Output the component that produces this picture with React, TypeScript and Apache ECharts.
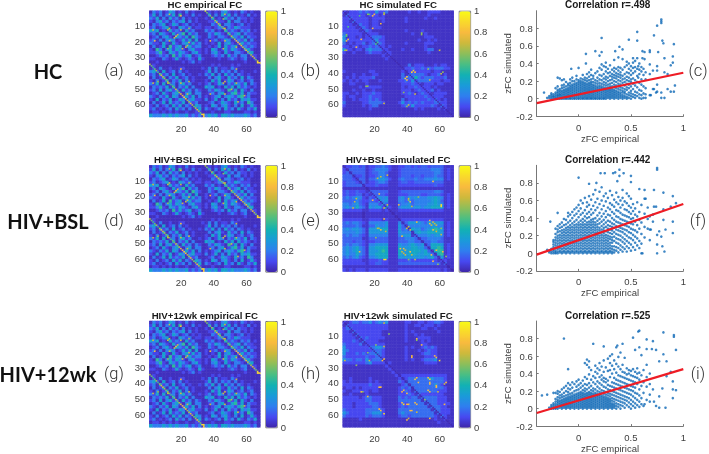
import React, { useEffect, useRef } from "react";
import * as echarts from "echarts";

// Heatmap values are estimated on a 34x34 block grid, one digit per block, read through a level table.
const empiricalLevels = [0.01, 0.03, 0.09, 0.2, 0.33, 0.45, 0.55, 0.65, 0.75, 0.85];
const simLevels = [0.01, 0.04, 0.1, 0.17, 0.27, 0.4, 0.52, 0.62, 0.72, 0.85];
const simBSLLevels = [0.02, 0.05, 0.1, 0.15, 0.21, 0.28, 0.35, 0.45, 0.6, 0.8];
const empiricalBlocks = [
"13231 24312 13121 11 12121 34212 13212 11","24131 32415 12131 21 13131 42413 12131 21",
"32413 14231 31212 11 21412 14231 32212 11","21342 31323 41312 11 12242 21413 31212 11",
"13234 12431 23121 21 11324 13321 23121 11","23123 41214 32312 21 22123 31324 32221 11",
"43412 14232 14231 11 32312 14232 13231 21","23143 21423 51423 11 13243 21423 41322 11",
"12313 42143 24153 21 13213 32143 24132 21","23131 34312 42414 11 21231 24312 32413 11",
"32214 21421 34242 31 21214 13421 24232 21","13124 15234 13423 31 12124 14234 12323 21",
"21531 34243 21342 21 21431 24243 21342 11","22352 14324 32134 21 21342 14213 32134 11",
"11232 31524 23412 31 11232 31423 13312 21","22113 21242 12321 42 11112 11232 12311 21",
"11211 11111 21231 21 11111 11111 11211 11","12111 11111 11111 11 11212 11121 21111 11",
"12131 12112 21111 12 13131 22132 11111 11","34214 12313 12111 11 24131 32313 12111 21",
"23142 31412 31211 21 32413 14231 32121 11","13124 13241 23121 11 13134 21423 14132 11",
"21312 41324 13121 11 21424 12431 23123 11","32414 12313 42311 21 23124 31324 32413 21",
"13232 41413 24131 11 43412 14241 42321 21","23141 34231 42313 21 13243 21524 14213 11",
"12314 21342 13413 31 12313 41245 24132 21","32132 41431 24241 31 21234 13432 45231 11",
"21413 24124 31342 21 31241 31423 14342 21","13124 14232 41323 11 12312 43214 23153 11",
"21312 31424 13214 31 21431 34213 14124 21","23121 23142 31312 41 32123 14231 42132 41",
"12212 12121 12112 21 11211 12211 11221 21","43334 34343 34232 31 34342 44343 33432 31",
];
const homologDiagonal = [.65,.55,.45,.55,.65,.45,.65,.75,.55,.65,.55,.65,.55,.45,.55,.55,.65,.55,.65,.75,.85,.85,.75,.65,.65,.75,.65,.55,.65,.75,.65,.55,.85,.85];
const empiricalHot = [[19,3,.8],[19,12,.7],[11,12,.7],[2,12,.7],[16,16,.8],[17,15,.7],[22,23,.7],[24,20,.7],[24,11,.6],[19,37,.8],[19,46,.7],[11,46,.7],[2,46,.7],[16,50,.7],[24,45,.7],[8,42,.7],[5,45,.6],[53,37,.7],[53,46,.7],[45,46,.7],[50,50,.7],[58,54,.7],[20,54,.8],[22,56,.8],[23,53,.7],[32,66,.9],[33,66,.9]];

const simHCBlocks = [
"21222 32322 42231 11 11121 12112 22211 11","13222 22122 21211 11 11111 11112 11111 11",
"22322 22212 22211 11 11211 11121 12111 11","22132 22212 21211 11 11211 11111 11111 11",
"22212 32212 21111 11 11111 11111 11111 11","22221 23212 22111 11 11111 11111 11111 11",
"22222 12321 11111 11 11211 11211 11111 11","32222 21222 21111 11 11112 11121 11111 11",
"41221 21223 33211 11 11111 11122 21111 11","42222 22223 42211 11 11111 12112 12111 11",
"31212 23123 33211 11 11211 11122 21111 11","22122 12232 32212 11 11111 11121 11111 11",
"42212 21343 33221 11 12112 11123 31111 11","21121 11232 22122 11 11111 11112 11111 11",
"11111 11111 11212 11 11111 11111 11111 11","11111 11111 11121 11 11111 11111 11111 11",
"11111 11111 11111 11 11111 11111 11111 11","11111 11111 11111 11 11131 22211 12122 11",
"11111 11111 11111 11 11223 22323 23332 21","21111 11122 11111 11 12122 22222 12211 11",
"11121 12112 21111 11 13133 33321 22312 11","12121 22223 11111 11 13233 53233 32223 11",
"21212 12211 12111 11 22324 23333 22212 21","11221 11211 11111 11 12223 22122 21221 11",
"11111 21222 22111 11 12122 32222 12111 11","11121 12112 11111 11 12221 23222 31211 11",
"22112 12223 22111 11 12232 12322 12222 11","21221 12232 22111 11 11222 22232 22221 11",
"21121 22232 32111 11 13122 22223 23212 11","31111 12233 33211 11 24232 32322 23322 11",
"21111 12123 31111 11 12324 22222 32132 11","11111 11121 11111 11 11111 21211 11212 11",
"11111 11111 11111 11 11111 11111 11111 11","11111 11111 11111 11 11111 11111 11111 11",
];
const simHCHot = [[2,15,.6],[3,18,.8],[1,25,.6],[3,10,.5],[8,23,.8],[16,2,.5],[19,2,.8],[18,11,.8],[23,8,.8],[25,2,.7],[21,20,.5],[25,59,.6],[14,48,.6],[38,43,.9],[42,39,.9],[44,39,.8],[44,53,.8],[48,15,.6],[59,25,.7],[60,40,.7],[39,61,.6],[53,44,.7],[52,37,.6]];

const simBSLBlocks = [
"12233 23122 33432 11 22332 32332 33331 11","21333 33123 44442 11 23333 33333 44431 21",
"23133 33123 34431 11 23333 33333 34431 21","33312 23122 34431 11 23332 33233 34331 21",
"33321 33133 45542 11 34333 43344 45441 21","23332 13122 34431 11 23322 33333 33331 11",
"23333 31222 32221 11 22222 22222 23221 11","11111 11011 11111 11 11111 11111 11111 11",
"23223 22133 33331 11 23333 33333 34431 11","23223 31213 33321 11 22233 33223 33321 21",
"34345 42132 45451 11 45354 54445 56541 21","33334 32233 25451 11 44343 44444 56531 21",
"44345 32144 42531 11 34453 44445 56541 21","45446 43154 55262 11 45554 55455 66651 21",
"22222 21122 22121 11 22222 22222 22221 11","11111 10111 11111 01 11111 11111 11111 11",
"11111 10111 11111 10 11111 11111 11111 11","22222 21122 22121 11 12222 22222 22221 11",
"34344 32144 44451 11 41355 55435 55551 21","33334 31133 54451 11 53144 44444 55441 21",
"45455 43155 56661 11 53416 55345 67651 21","44445 43155 55551 11 54441 56556 66651 21",
"34344 32144 44441 11 45551 34445 45541 21","33333 31133 33331 11 33444 31334 44431 11",
"33323 32122 33331 11 33344 33133 44331 11","34344 32144 55551 11 54456 54513 66651 21",
"45456 43155 66661 11 65556 65531 66761 21","45456 43155 56761 11 65566 66563 16771 21",
"45446 43155 66661 11 65566 65565 31671 21","34345 32144 56661 11 55555 55545 63151 21",
"22222 21122 23221 11 22232 22222 22122 11","22222 22122 33221 11 33333 33333 33313 11",
"11111 11111 11111 11 11111 11111 11111 01","21212 22122 22221 11 22222 22222 22212 10",
];
const simBSLHot = [[8,21,.7],[6,27,.7],[18,22,.8],[25,27,.7],[34,25,.8],[41,23,.8],[60,26,.9],[53,37,.8],[45,36,.8],[10,55,.8],[25,60,.9],[41,55,.8],[35,53,.8],[54,57,.8],[61,55,.8],[23,7,.7],[40,21,.7],[42,26,.7],[37,56,.7],[38,54,.7],[42,57,.7],[44,60,.7],[20,46,.6],[22,40,.6],[40,39,.7],[41,41,.7],[55,36,.7],[57,38,.7],[60,40,.6],[58,63,.6]];

const sim12wkBlocks = [
"21233 23342 34341 11 11221 12212 23321 11","13222 22222 22221 11 11211 22122 21211 11",
"23322 22222 22221 11 11211 11221 12111 11","22132 22222 22111 11 11212 11111 11211 11",
"22213 22222 22111 11 11211 21211 11111 11","22221 32322 22211 11 11211 12222 11111 11",
"22232 13222 21111 11 11211 11212 11111 11","32222 31222 22211 11 11111 11221 11111 11",
"42222 22233 44311 11 11212 11232 32111 11","43222 22223 33211 11 11211 12123 22111 11",
"42223 23233 43211 11 11211 11233 22111 11","32222 22322 33211 11 11211 11122 22111 11",
"43323 32423 33311 11 11212 11233 34111 11","22222 22342 22212 11 11111 11122 22111 11",
"11111 11111 11121 11 11111 11111 11111 11","11111 11111 11112 11 11111 11111 11111 11",
"11111 11111 11111 21 11111 11111 11111 11","11111 11111 11111 12 12222 22222 22222 11",
"11211 11121 11111 11 21233 33334 43332 11","21211 11121 21111 11 32133 33333 33332 11",
"22222 22232 22111 11 12313 33333 34321 11","12212 12222 21111 11 23231 33333 33332 11",
"21122 22212 21111 11 22321 33333 33222 11","11211 11211 11111 11 22232 13222 22221 11",
"22222 12332 22111 11 32323 31333 33222 11","22222 22332 22111 11 33333 33133 33222 11",
"22212 22233 32111 11 23233 33313 33222 21","22212 22223 32111 11 23233 33331 33322 11",
"32222 22333 33211 11 33333 33333 13322 21","43222 22334 44211 11 34333 33333 31322 21",
"32222 22323 33211 11 23323 33333 32132 11","11111 21111 11111 11 11111 11111 12112 11",
"11111 11111 11111 11 11111 11111 11211 11","11111 11111 11111 11 11111 11111 11111 11",
];
const sim12wkHot = [[1,25,.6],[15,48,.8],[20,15,.6],[25,16,.7],[25,1,.7],[28,8,.6],[24,25,.8],[25,59,.9],[23,57,.8],[23,42,.8],[11,45,.8],[36,45,.8],[36,52,.8],[39,53,.8],[39,63,.8],[41,57,.8],[39,46,.8],[44,37,.8],[44,52,.8],[45,58,.7],[48,15,.8],[42,22,.8],[45,12,.6],[53,37,.9],[53,40,.8],[57,42,.8],[53,45,.8],[59,25,.9],[56,22,.8],[62,53,.8],[62,40,.7],[50,50,.6]];

const heatXLabels = Array.from({ length: 68 }, (_, i) => String(i + 1));
const colorbarTicks = [0, 0.2, 0.4, 0.6, 0.8, 1];
const parula = ["#3E26A8", "#4748F0", "#2F7EEF", "#1A9BD9", "#12B1B3", "#49BE84", "#8DBE5A", "#CDB93C", "#F8BA3E", "#F9D92B", "#F9FB15"];

// Scatter clouds: [x, y, y, ...] in hundredths, one column of the picture at a time.
const cloudC = [
[-33,7],[-30,1],[-28,1,3],[-26,0,2,4,6],[-24,0,2,3,5],[-22,0,1,3,5,7,12],[-20,0,1,3,4,6,8,10,14,24],[-18,0,2,4,5,7,9,11,23],
[-16,0,1,3,5,7,9,12,15,21],[-14,0,2,4,6,8,10,13,16,22],[-12,0,1,3,5,7,9,11,14,19],[-10,0,2,4,6,8,10,12,15,17],[-8,0,1,3,5,7,9,11,13,15,18,22],
[-7,34],[-6,0,2,4,6,8,10,12,14,16,20,24],[-4,0,1,3,5,7,9,11,13,15,17,20],[-2,0,2,4,6,8,10,12,14,16,18,22,26],[0,0,1,3,5,7,9,11,13,15,17,19,21,35],
[2,0,2,4,6,8,10,12,14,16,18,20,23],[4,0,1,3,5,7,9,11,13,15,17,19,22,27],[6,0,2,4,6,8,10,12,14,16,18,21,24],[7,40,51],[8,0,1,3,5,7,9,11,13,15,17,20,23,28],
[10,0,2,4,6,8,10,12,14,16,18,21,25,30],[12,0,1,3,5,7,9,11,13,15,17,19,22,27,33],[14,0,2,4,6,8,10,12,14,16,19,23,26],[16,0,1,3,5,7,9,11,13,15,18,21,29,54],
[18,0,2,4,6,8,10,12,14,17,20,24,31],[20,0,1,3,5,7,9,11,13,15,18,22,27,35,49],[22,0,2,4,6,8,10,12,14,17,21,26,33,39,53,69],[24,0,1,3,5,7,9,11,13,16,19,23,28,37],
[26,0,2,4,6,8,10,12,15,18,22,25,31,36,41],[28,1,3,5,7,9,11,13,16,20,24,29,34],[30,0,2,4,6,8,10,12,14,17,21,26,30,38],[32,1,3,5,7,9,11,14,18,22,25,28,33],
[34,0,2,4,6,8,10,13,16,20,24,27,31,35,44],[35,54],[36,1,3,5,7,9,12,15,19,23,26,29,34],[38,0,2,4,6,8,11,14,17,21,25,28,32,36,47],[39,59],[40,1,3,5,7,10,13,16,20,24,27,30,35],
[42,0,2,4,7,9,12,18,22,26,33,45,56],[44,1,3,6,8,11,15,19,23,28,36],[46,0,2,5,10,13,17,21,25,30,38,42],[48,1,4,7,12,16,20,24,29,34,40,67],[50,0,3,6,9,14,19,22,27,32,37],
[52,2,5,11,17,23,29,35,41,46],[54,1,4,8,15,21,31,36,43],[56,3,7,13,19,26,34,46,66,76],[57,24,37],[58,1,5,10,18,28,33,40],[60,0,4,9,16,22,31,36],[61,46,54],[62,1,6,14,27,34],
[63,45,53],[64,1,5,12,22,30],[68,4,28,39,53,55],[69,4],[71,11,32],[72,11,72],[74,7],[75,8,16,32,37,83],[76,53],[79,1,7,86,88,90],[80,66],[81,63],[82,1,30,46],[85,11,28],[88,8,38],[90,41,48],[91,8,62],[92,15],
];
const cloudF = [
[-30,4],[-28,1,3],[-27,36],[-26,0,2,5],[-24,0,2,4,7,10,13,15],[-22,0,1,3,6,9,12,15,18,22,28],[-20,0,2,5,8,11,14,17,20,24,27,31,46],[-18,1,3,6,9,12,15,18,21,25,29,33],
[-16,0,2,5,8,11,14,17,20,23,26,30,35],[-14,1,3,6,9,12,15,18,21,24,27,32,39],[-12,0,2,5,8,11,14,17,20,23,26,29,33,38],[-10,1,3,6,9,12,15,18,21,24,27,30,35,42,46],
[-8,0,2,5,8,11,14,17,20,23,26,29,32,37,44],[-6,1,3,6,9,12,15,18,21,24,27,30,34,40,47],[-4,0,2,5,8,11,14,17,20,23,26,29,32,36,43,50],[-2,1,3,6,9,12,15,18,21,24,27,30,33,38,45,52],
[0,0,2,5,8,11,14,17,20,23,26,29,32,35,41,48,55,86],[2,1,3,6,9,12,15,18,21,24,27,30,33,37,44,51,60],[4,0,2,5,8,11,14,17,20,23,26,29,32,35,39,46,57],[6,1,3,6,9,12,15,18,21,24,27,30,33,37,42,49,63],
[8,0,2,5,8,11,14,17,20,23,26,29,32,35,40,45,53,58],[10,1,3,6,9,12,15,18,21,24,27,30,33,36,41,47,55,65,79],[12,0,2,5,8,11,14,17,20,23,26,29,32,35,38,44,50,61],[14,1,3,6,9,12,15,18,21,24,27,30,33,36,39,46,54,67],
[16,0,2,5,8,11,14,17,20,23,26,29,32,35,40,49,58,72],[17,80],[18,1,3,6,9,12,15,18,21,24,27,30,33,37,43,52,62],[20,0,2,5,8,11,14,17,20,23,26,29,34,39,46,56,70],[21,91],[22,1,3,6,9,12,15,18,21,24,27,31,36,42,50,60,75],
[24,0,2,5,8,11,14,17,20,23,26,29,33,38,45,54,65],[25,91],[26,1,3,6,9,12,15,18,21,25,30,35,41,48,59,68],[28,0,2,5,8,11,14,17,20,24,28,32,37,44,52,63],[30,1,3,6,9,12,16,19,23,27,31,36,43,50,57,71],
[32,0,2,5,8,12,15,18,22,26,30,34,40,47,55,66],[33,91],[34,1,4,8,14,19,24,29,33,38,45,53,61],[35,92],[36,3,7,12,17,22,27,31,36,42,49,58,69],[37,82],[38,1,6,11,16,21,26,30,35,41,48,56,64],[39,88,95],
[40,4,9,15,20,25,29,34,39,46,52,60],[42,2,7,13,18,24,28,33,38,44,55,63,72],[43,91],[44,5,11,16,22,27,32,37,43,50,59],[46,2,8,14,20,26,31,36,42,49,57,68],[48,6,12,18,24,30,35,41,47,54,65],[50,3,10,17,23,28,34,39,45,52,62,81,88],
[52,7,15,21,27,33,40,48,56],[54,4,12,19,26,36,44,51],[56,9,17,24,32,42,58],[58,6,14,28,38,47,73],[60,0,11,22,35,55],[61,0],[63,18,30,45,62,72],[64,62],[66,28,39,52],[68,15,27,42],[69,27],[71,36,44],[72,72,53],[74,53],[75,0,10,21,95,97],[77,25],[79,19],[80,8],[81,38,50,69],[82,2],[83,27],[88,53],[90,23,36,65],[93,57],
];
const cloudI = [
[-35,15],[-30,16],[-28,1],[-26,0,2,4],[-24,0,2,4,6,18],[-22,0,1,3,5,8,11,18],[-20,0,2,4,6,8,10,13,17,20],[-18,1,3,5,7,9,12,15,19],[-16,0,2,4,6,8,10,13,16,22],[-14,1,3,5,7,9,11,14,18,24,80],
[-12,0,2,4,6,8,10,12,15,20,26],[-10,1,3,5,7,9,11,13,16,19,23,29,45],[-8,0,2,4,6,8,10,12,14,17,22,27],[-6,1,3,5,7,9,11,13,15,18,24,30],[-4,0,2,4,6,8,10,12,14,16,20,28],[-2,1,3,5,7,9,11,13,15,17,21,25,31],
[0,0,2,4,6,8,10,12,14,16,18,22,27,33],[2,1,3,5,7,9,11,13,15,17,19,24,29],[4,0,2,4,6,8,10,12,14,16,18,21,26,32],[6,1,3,5,7,9,11,13,15,17,20,23,28,36,52],[8,0,2,4,6,8,10,12,14,16,18,22,27,34,50,56],
[10,1,3,5,7,9,11,13,15,17,19,24,29,39,47,54],[12,0,2,4,6,8,10,12,14,16,18,21,26,33,44],[14,1,3,5,7,9,11,13,15,17,20,23,30,37,74],[16,0,2,4,6,8,10,12,14,16,18,22,28,35,42,49],[18,1,3,5,7,9,11,13,15,17,20,25,31,40,46],
[20,0,2,4,6,8,10,12,14,16,19,23,29,36,44,52],[22,1,3,5,7,9,11,13,15,18,21,27,33,38,48],[24,0,2,4,6,8,10,12,14,17,20,25,31,35,42,55,71],[26,1,3,5,7,9,11,13,16,19,24,30,34,47],[28,0,2,4,6,8,10,12,15,18,22,27,32,43,57],
[30,1,3,5,7,9,11,14,17,21,26,36,44,52,60],[32,0,2,4,6,9,12,16,20,25,30,40,49,62],[34,1,3,5,8,11,15,19,24,29,35,45,55],[36,0,3,6,10,14,18,23,28,33,41,51,70],[37,72],[38,2,5,9,13,17,22,27,32,38,48,59],
[40,0,4,8,12,16,21,26,31,37,45,64],[42,3,7,11,15,20,25,30,36,42,50,74],[44,1,6,10,14,19,24,29,35,41,58],[46,4,9,13,18,23,28,34,39,46],[48,2,7,12,17,22,27,33,40,44],[50,0,5,10,16,21,26,32,38,43],
[52,3,8,14,20,25,31,37,45,81],[54,1,6,12,18,24,30,36,42,67],[56,4,10,17,28,35,40,46],[57,88],[58,2,8,15,22,33,41,70,89],[60,5,12,26,38,61],[62,3,18,30,44],[63,5],[65,10,25,36,50,68,79],[68,8,16,28,40],[70,68],[71,22,77],
[72,8],[74,3,67],[77,1,14,54],[80,23],[81,87,62],[83,1],[84,37,54],[88,42],[90,12,22,31],[91,82,84],[93,21,67],
];
const fitC = [[-0.4, -0.05], [1, 0.295]];
const fitF = [[-0.4, -0.015], [1, 0.56]];
const fitI = [[-0.4, -0.05], [1, 0.45]];

const rowTops = [10.7, 165.3, 321];
const rowNames = ["HC", "HIV+BSL", "HIV+12wk"];
const bigLabelY = [71, 221, 374];
const bigLabelX = [48, 48, 48];
const letters = [["(a)", "(b)", "(c)"], ["(d)", "(e)", "(f)"], ["(g)", "(h)", "(i)"]];
const correlations = ["Correlation r=.498", "Correlation r=.442", "Correlation r=.525"];
const empiricalTitles = ["HC empirical FC", "HIV+BSL empirical FC", "HIV+12wk empirical FC"];
const simulatedTitles = ["HC simulated FC", "HIV+BSL simulated FC", "HIV+12wk simulated FC"];
const simBlocks = [simHCBlocks, simBSLBlocks, sim12wkBlocks];
const simHot = [simHCHot, simBSLHot, sim12wkHot];
const simLevelTables = [simLevels, simBSLLevels, simLevels];
const clouds = [cloudC, cloudF, cloudI];
const fits = [fitC, fitF, fitI];

function buildCells(blocks: string[], levels: number[], hot: number[][], homolog: number[] | null) {
  const rows = blocks.map((s) => s.replace(/ /g, ""));
  const m: number[][] = [];
  for (let r = 0; r < 68; r++) {
    m.push([]);
    for (let c = 0; c < 68; c++) m[r].push(levels[Number(rows[r >> 1][c >> 1])]);
    if (!homolog) m[r][r] = 0.01;
  }
  if (homolog) homolog.forEach((v, i) => { m[i][i + 34] = v; m[i + 34][i] = v; });
  hot.forEach(([r, c, v]) => { m[r][c] = v; m[c][r] = v; });
  const cells: number[][] = [];
  for (let r = 0; r < 68; r++) for (let c = 0; c < 68; c++) cells.push([c, r, m[r][c]]);
  return cells;
}

function cloudPoints(cloud: number[][]) {
  const pts: number[][] = [];
  cloud.forEach((col) => col.slice(1).forEach((y) => pts.push([col[0] / 100, y / 100])));
  return pts;
}

const tickFont = { fontFamily: "Liberation Sans", fontSize: 9.5, color: "#404040" };

function buildOption() {
  const grid: any[] = [], xAxis: any[] = [], yAxis: any[] = [], series: any[] = [], visualMap: any[] = [], title: any[] = [], graphic: any[] = [];
  const titleStyle = { fontFamily: "Liberation Sans", fontWeight: "bold", fontSize: 9.7, color: "#1a1a1a" };
  const empiricalCells = buildCells(empiricalBlocks, empiricalLevels, empiricalHot, homologDiagonal);

  const addHeat = (left: number, top: number, cells: number[][], text: string) => {
    const w = 111, h = 106.3;
    const gi = grid.length;
    grid.push({ left, top, width: w, height: h });
    xAxis.push({ gridIndex: gi, type: "category", data: heatXLabels, axisLine: { show: false }, axisTick: { show: false }, splitLine: { show: false },
      axisLabel: { ...tickFont, margin: 6, interval: (_: number, v: string) => Number(v) % 20 === 0 } });
    yAxis.push({ gridIndex: gi, type: "category", inverse: true, data: heatXLabels, axisLine: { show: false }, axisTick: { show: false }, splitLine: { show: false },
      axisLabel: { ...tickFont, margin: 4, interval: (_: number, v: string) => Number(v) % 10 === 0 } });
    const si = series.length;
    series.push({ type: "heatmap", xAxisIndex: gi, yAxisIndex: gi, data: cells, silent: true, progressive: 0 });
    visualMap.push({ type: "continuous", seriesIndex: si, min: 0, max: 1, dimension: 2, calculable: false, show: true, text: null, padding: 0, borderWidth: 1, borderColor: "#777",
      left: left + w + 5, top, itemWidth: 11.4, itemHeight: h, inRange: { color: parula }, hoverLink: false });
    const gb = grid.length;
    grid.push({ left: left + w + 5, top, width: 11.4, height: h });
    xAxis.push({ gridIndex: gb, type: "value", show: false, min: 0, max: 1 });
    yAxis.push({ gridIndex: gb, type: "value", position: "right", min: 0, max: 1, interval: 0.2, axisLine: { show: false }, axisTick: { show: false }, splitLine: { show: false },
      axisLabel: { ...tickFont, margin: 4, customValues: colorbarTicks } });
    title.push({ text, left: left + w / 2, top: top - 11, textAlign: "center", padding: 0, textStyle: titleStyle });
  };

  rowTops.forEach((top, row) => {
    addHeat(149.3, top, empiricalCells, empiricalTitles[row]);
    addHeat(342.7, top, buildCells(simBlocks[row], simLevelTables[row], simHot[row], null), simulatedTitles[row]);
    const gi = grid.length;
    const h = 105.6;
    grid.push({ left: 536.7, top, width: 146.6, height: h });
    const axisLine = { show: true, lineStyle: { color: "#777", width: 1 } };
    const axisTick = { show: true, inside: true, length: 2, lineStyle: { color: "#777" } };
    xAxis.push({ gridIndex: gi, type: "value", min: -0.4, max: 1, splitLine: { show: false }, axisLine: { ...axisLine, onZero: false },
      axisTick: { ...axisTick, customValues: [0, 0.5, 1] }, axisLabel: { ...tickFont, margin: 6, customValues: [0, 0.5, 1] },
      name: "zFC empirical", nameLocation: "middle", nameGap: 16, nameTextStyle: { fontFamily: "Liberation Sans", fontSize: 9.5, color: "#404040" } });
    yAxis.push({ gridIndex: gi, type: "value", min: -0.2, max: 1, splitLine: { show: false }, axisLine: { ...axisLine, onZero: false },
      axisTick: { ...axisTick, customValues: [-0.2, 0, 0.2, 0.4, 0.6, 0.8] }, axisLabel: { ...tickFont, margin: 4, customValues: [-0.2, 0, 0.2, 0.4, 0.6, 0.8] },
      name: "zFC simulated", nameLocation: "middle", nameGap: 21, nameTextStyle: { fontFamily: "Liberation Sans", fontSize: 9.5, color: "#404040" } });
    series.push({ type: "scatter", xAxisIndex: gi, yAxisIndex: gi, data: cloudPoints(clouds[row]), symbolSize: 2.6, itemStyle: { color: "#0F69B6" }, silent: true, progressive: 0, large: false });
    series.push({ type: "line", xAxisIndex: gi, yAxisIndex: gi, data: fits[row], showSymbol: false, silent: true, lineStyle: { color: "#EE1C25", width: 2.2 } });
    title.push({ text: correlations[row], left: 607.7, top: top - 11, textAlign: "center", padding: 0, textStyle: { ...titleStyle, fontSize: 10 } });
    graphic.push({ type: "text", x: bigLabelX[row], y: bigLabelY[row], style: { text: rowNames[row], fontFamily: "Lato", fontWeight: "bold", fontSize: 20, fill: "#111", textAlign: "center", textVerticalAlign: "middle" } });
    const lx = [114, 310.5, 698];
    letters[row].forEach((t, i) => {
      graphic.push({ type: "text", x: lx[i], y: bigLabelY[row] - 1, style: { text: t, fontFamily: "Roboto", fontWeight: 300, fontSize: 16.5, fill: "#333", textAlign: "center", textVerticalAlign: "middle" } });
    });
  });
  return { animation: false, backgroundColor: "#fff", grid, xAxis, yAxis, series, visualMap, title, graphic };
}

export default function App() {
  const ref = useRef<HTMLDivElement>(null);
  useEffect(() => {
    const chart = echarts.init(ref.current!, undefined, { renderer: "svg" });
    chart.setOption(buildOption() as any);
    return () => chart.dispose();
  }, []);
  return <div ref={ref} style={{ position: "fixed", left: 0, top: 0, width: 709, height: 454, filter: "blur(0.4px)" }} />;
}
